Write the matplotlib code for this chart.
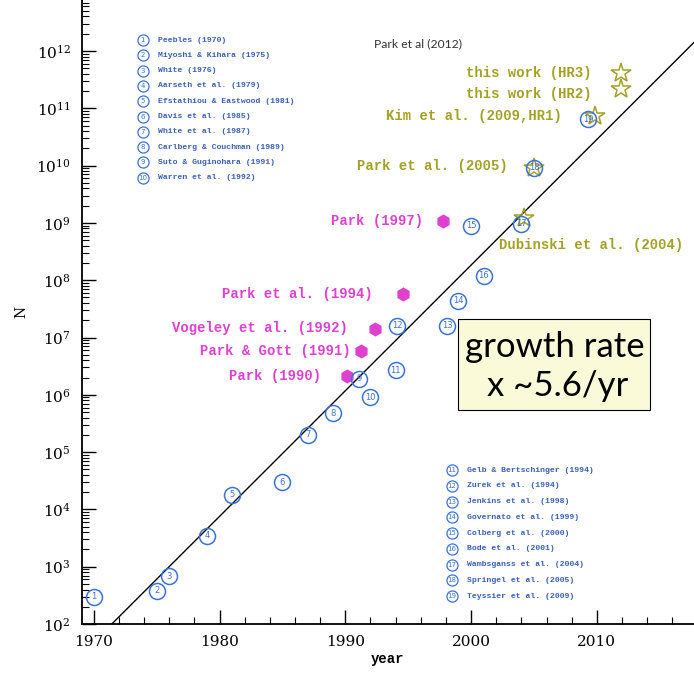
import matplotlib
matplotlib.use('Agg')
from matplotlib import pyplot as plt
from matplotlib.patches import Rectangle
from matplotlib.ticker import LogLocator, NullFormatter
import numpy as np

# simulations (circled numbers)
sim_num = list(range(1, 20))
sim_year = [1970, 1975, 1976, 1979, 1981, 1985, 1987, 1989, 1991.1, 1992,
            1994, 1994.1, 1998.1, 1999, 2000, 2001, 2004, 2005, 2009.3]
sim_N = [3.0e2, 3.8e2, 6.8e2, 3.5e3, 1.8e4, 3.0e4, 2.0e5, 4.8e5, 1.9e6, 9.1e5,
         2.7e6, 1.6e7, 1.6e7, 4.4e7, 8.9e8, 1.2e8, 9.7e8, 9.1e9, 6.5e10]

sim_refs_1 = ['Peebles (1970)', 'Miyoshi & Kihara (1975)', 'White (1976)',
              'Aarseth et al. (1979)', 'Efstathiou & Eastwood (1981)', 'Davis et al. (1985)',
              'White et al. (1987)', 'Carlberg & Couchman (1989)', 'Suto & Guginohara (1991)',
              'Warren et al. (1992)']
sim_refs_2 = ['Gelb & Bertschinger (1994)', 'Zurek et al. (1994)', 'Jenkins et al. (1998)',
              'Governato et al. (1999)', 'Colberg et al. (2000)', 'Bode et al. (2001)',
              'Wambsganss et al. (2004)', 'Springel et al. (2005)', 'Teyssier et al. (2009)']

# Park's simulations (magenta hexagons)
park_labels = ['Park (1990)', 'Park & Gott (1991)', 'Vogeley et al. (1992)',
               'Park et al. (1994)', 'Park (1997)']
park_year = [1990.1, 1991.25, 1992.35, 1994.6, 1997.8]
park_N = [2.1e6, 5.8e6, 1.4e7, 5.7e7, 1.07e9]

# stars (olive)
star_labels = ['Dubinski et al. (2004)', 'Park et al. (2005)', 'Kim et al. (2009,HR1)',
               'this work (HR2)', 'this work (HR3)']
star_year = [2004.2, 2005, 2009.85, 2011.9, 2011.9]
star_N = [1.2e9, 9.1e9, 7.2e10, 2.2e11, 4.1e11]

# growth line
fit_year = [1971.43, 2017.73]
fit_N = [1e2, 10**12.15]

# label anchors (year, log10 N)
park_lab_pos = [(1988.06, 6.33), (1990.45, 6.76), (1990.2, 7.17), (1992.2, 7.76), (1996.17, 9.03)]
star_lab_pos = [(2002.22, 8.61, 'left'), (2002.93, 9.99, 'right'), (2007.23, 10.87, 'right'),
                (2009.62, 11.25, 'right'), (2009.62, 11.62, 'right')]

plt.rcParams['mathtext.fontset'] = 'dejavuserif'
blue = '#3b72d6'
blue_txt = '#3a5fb8'
magenta = '#e040d0'
olive = '#a3a124'
mono = 'Liberation Mono'

fig = plt.figure(figsize=(6.94, 6.73), dpi=100)
ax = fig.add_axes([0.118, 0.0728, 0.882, 0.9272])
ax.set_yscale('log')
ax.set_xlim(1969.05, 2017.73)
ax.set_ylim(1e2, 10**12.89)

ax.plot(fit_year, fit_N, color='black', lw=1.0, zorder=1)

ax.plot(park_year, park_N, 'h', color=magenta, ms=9, mec=magenta, zorder=3)
for lab, (x, ly) in zip(park_labels, park_lab_pos):
    ax.text(x, 10**ly, lab, color=magenta, fontsize=10, family=mono,
            ha='right', va='center', fontweight='bold')

ax.plot(star_year, star_N, '*', mfc='none', mec=olive, ms=15, mew=1.1, zorder=4)
for lab, (x, ly, ha) in zip(star_labels, star_lab_pos):
    ax.text(x, 10**ly, lab, color=olive, fontsize=10, family=mono,
            ha=ha, va='center', fontweight='bold')

ax.plot(sim_year, sim_N, 'o', mfc='none', mec=blue, ms=11.5, mew=1.1, zorder=5)
for num, yr, n in zip(sim_num, sim_year, sim_N):
    ax.text(yr, n, str(num), color=blue, fontsize=6, ha='center', va='center',
            family='DejaVu Sans', zorder=6)

# reference lists
def ref_list(refs, start, x0, y0, dy):
    for i, r in enumerate(refs):
        y = y0 - i * dy
        ax.plot([x0], [y], 'o', mfc='none', mec=blue, ms=8, mew=0.9,
                transform=ax.transAxes, clip_on=False)
        ax.text(x0, y, str(start + i), color=blue, fontsize=5, ha='center',
                va='center', transform=ax.transAxes)
        ax.text(x0 + 0.024, y, r, color=blue_txt, fontsize=5.9, family=mono,
                ha='left', va='center', transform=ax.transAxes, fontweight='bold')

ref_list(sim_refs_1, 1, (143 - 82) / 612, 1 - 40 / 624, 15.3 / 624)
ref_list(sim_refs_2, 11, (452 - 82) / 612, 1 - 470 / 624, 15.75 / 624)

ax.text(0.477, 1 - 44 / 624, 'Park et al (2012)', color='#333333', fontsize=8.7,
        family='Lato', ha='left', va='center', transform=ax.transAxes)

# growth-rate box
ax.add_patch(Rectangle(((458 - 82) / 612, 1 - 410 / 624), 192 / 612, 91 / 624,
                       transform=ax.transAxes, fc='#fafad8', ec='black', lw=0.8,
                       zorder=2))
ax.text((555 - 82) / 612, 1 - 347 / 624, 'growth rate', fontsize=25, family='Lato',
        ha='center', va='center', transform=ax.transAxes, zorder=3)
ax.text((558 - 82) / 612, 1 - 386 / 624, 'x ~5.6/yr', fontsize=25, family='Lato',
        ha='center', va='center', transform=ax.transAxes, zorder=3)

ax.spines['top'].set_visible(False)
ax.spines['right'].set_visible(False)
ax.spines['left'].set_linewidth(1.3)
ax.spines['bottom'].set_linewidth(1.3)

ax.yaxis.set_major_locator(LogLocator(base=10, numticks=20))
ax.yaxis.set_minor_locator(LogLocator(base=10, subs=np.arange(2, 10), numticks=20))
ax.yaxis.set_minor_formatter(NullFormatter())
ax.set_xticks([1970, 1980, 1990, 2000, 2010])
ax.set_xticks(np.arange(1970, 2018, 2), minor=True)
ax.tick_params(axis='both', which='major', direction='in', length=10, width=1.0,
               labelsize=11, pad=8)
ax.tick_params(axis='both', which='minor', direction='in', length=5, width=0.8)
for lab in ax.get_xticklabels() + ax.get_yticklabels():
    lab.set_family('DejaVu Serif')

ax.set_xlabel('year', family=mono, fontsize=10, fontweight='bold', labelpad=2)
ax.set_ylabel('N', family='DejaVu Serif', fontsize=10, labelpad=6)

fig.savefig('out.png', dpi=100)
